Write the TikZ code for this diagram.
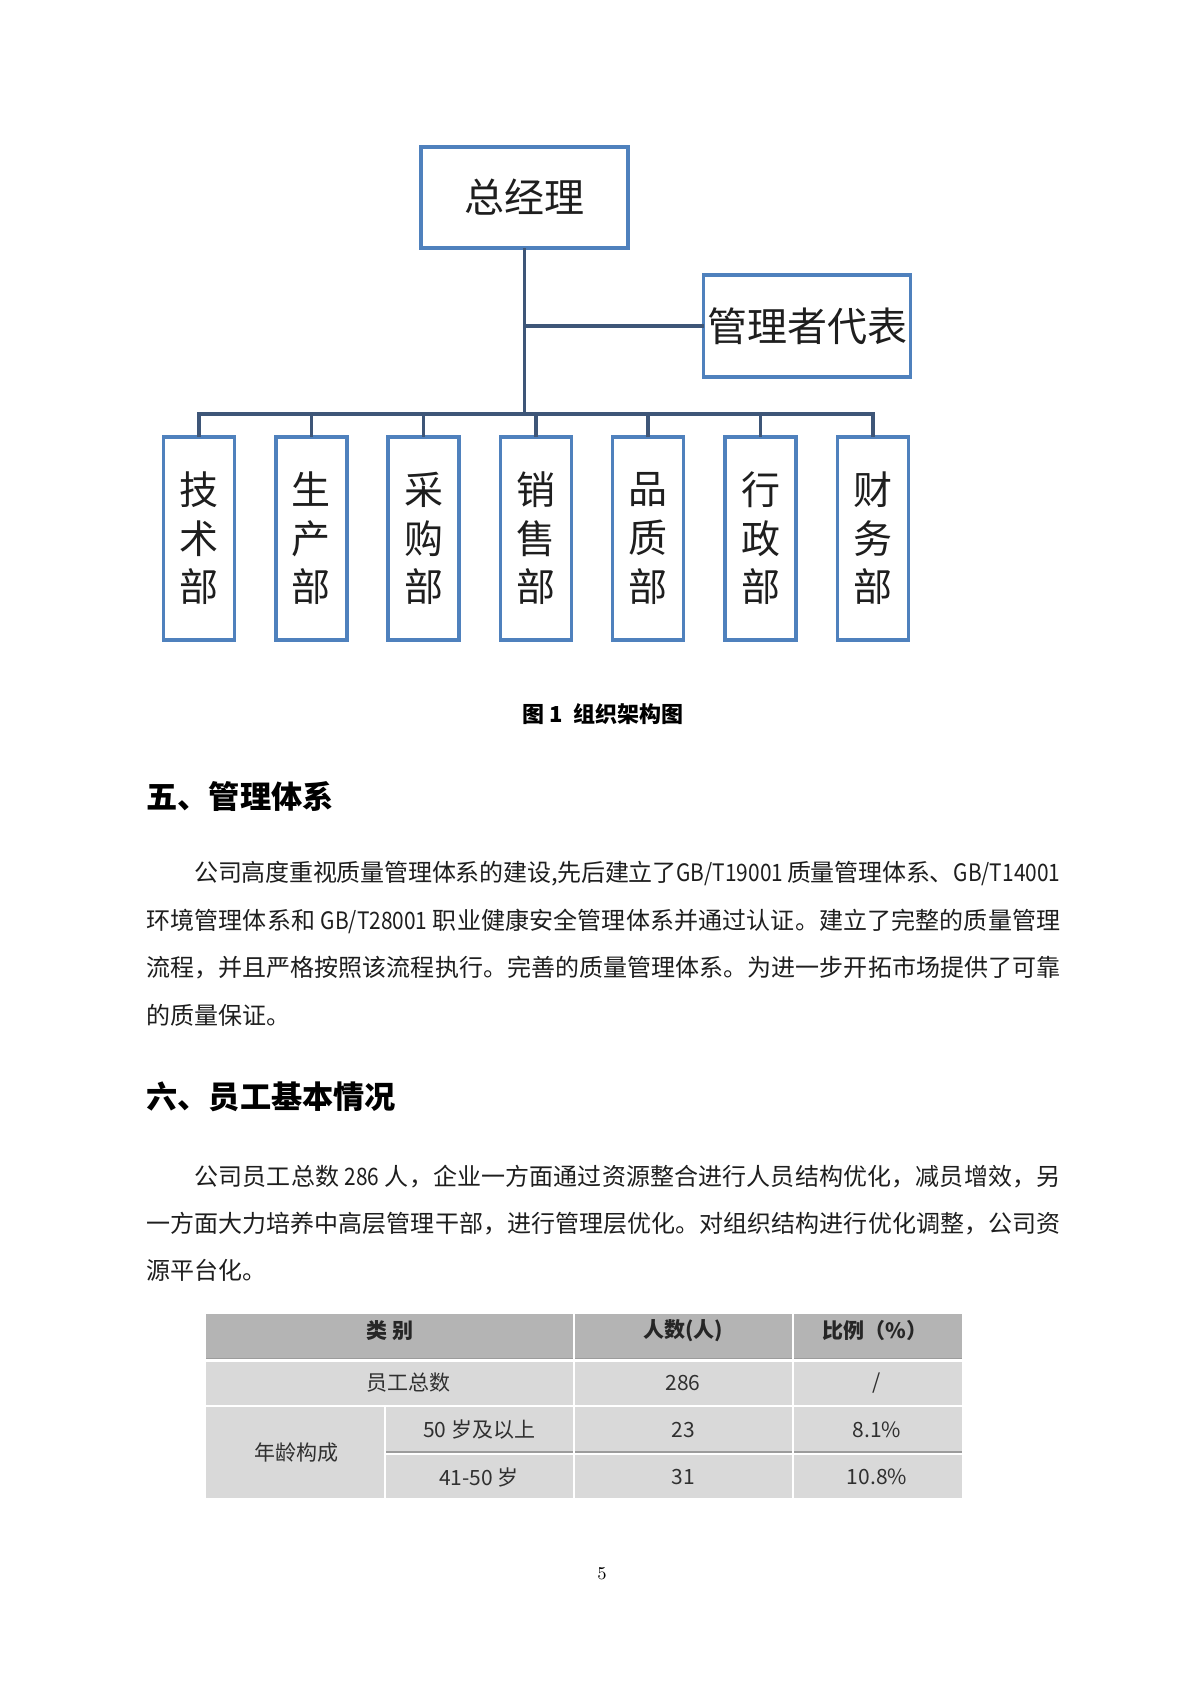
\documentclass[tikz,border=0pt]{standalone}
\usepackage{fontspec}
\usepackage{graphicx}
\newfontfamily\cjk{Noto Sans CJK SC}
\definecolor{boxblue}{HTML}{4F81BD}
\definecolor{connblue}{HTML}{3E5678}
\definecolor{hdrgray}{HTML}{B4B4B4}
\definecolor{rowgray}{HTML}{D9D9D9}
\definecolor{sepgray}{HTML}{9C9C9C}
\definecolor{bodyink}{HTML}{1E1E1E}
\definecolor{tabink}{HTML}{303030}
\tikzset{
  orgbox/.style={draw=boxblue, line width=1.75pt, fill=white, inner sep=0pt, text=bodyink, font=\cjk\fontsize{20}{24}\selectfont},
  deptbox/.style={orgbox, minimum width=35.5pt, minimum height=101.5pt, align=center, font=\cjk\fontsize{19.5}{24.3}\selectfont},
  conn/.style={draw=connblue, line width=1.8pt, line cap=rect},
  bodyline/.style={anchor=west, inner sep=0pt, text=bodyink, font=\cjk\fontsize{12}{14}\selectfont},
  heading/.style={anchor=west, inner sep=0pt, text=black, font=\cjk\bfseries\fontsize{15.6}{18}\selectfont},
  tabhead/.style={inner sep=0pt, text=black!85, font=\cjk\bfseries\fontsize{10.5}{12}\selectfont},
  tabcell/.style={inner sep=0pt, text=tabink, font=\cjk\fontsize{10.5}{12}\selectfont},
}
% justified line: glue between every token (group)
\def\stopmarker{\relax}
\newcommand\spreadline[1]{\hbox to 457pt{\spreadfirst#1\relax}}
\def\spreadfirst#1{{#1}\spreadrest}
\def\spreadrest#1{\def\sptmp{#1}\ifx\sptmp\stopmarker\else\hskip 0pt plus 1fil minus 1fil{#1}\expandafter\spreadrest\fi}
\newcommand\lat[1]{\scalebox{0.87}[1]{#1}}
\begin{document}
\begin{tikzpicture}[x=0.5pt, y=-0.5pt]
\useasboundingbox[fill=white] (0,0) rectangle (1191,1684);

% ---------- organisation chart ----------
\node[orgbox, minimum width=103.5pt, minimum height=50.5pt] (gm) at (524.5,197.5) {总经理};
\node[orgbox, minimum width=103.5pt, minimum height=51pt] (rep) at (807,326) {管理者代表};

\node[deptbox] (d1) at (199,538.5) {技\\术\\部};
\node[deptbox] (d2) at (311.3,538.5) {生\\产\\部};
\node[deptbox] (d3) at (423.6,538.5) {采\\购\\部};
\node[deptbox] (d4) at (535.9,538.5) {销\\售\\部};
\node[deptbox] (d5) at (648.2,538.5) {品\\质\\部};
\node[deptbox] (d6) at (760.5,538.5) {行\\政\\部};
\node[deptbox] (d7) at (872.8,538.5) {财\\务\\部};

\coordinate (busL) at (199,414);
\coordinate (busR) at (872.8,414);
\coordinate (busM) at (524.5,414);

\draw[conn] (gm.south) -- (busM);
\draw[conn] (gm.south |- rep.west) -- (rep.west);
\draw[conn] (busL) -- (busR);
\foreach \d in {d1,d2,d3,d4,d5,d6,d7}{
  \draw[conn] (\d.north |- busL) -- (\d.north);
}

% ---------- caption ----------
\node[inner sep=0pt, text=black, font=\cjk\bfseries\fontsize{11}{13}\selectfont] (cap) at (603,714) {图 1\ \ 组织架构图};

% ---------- section five ----------
\node[heading] (h5) at (146,797) {五、管理体系};

\node[bodyline] (p1a) at (146,874) {\spreadline{{\hspace*{24pt}}公司高度重视质量管理体系的建设,先后建立了{\lat{GB/T19001}\,}质量管理体系、{\lat{GB/T14001}}}};
\node[bodyline] (p1b) at (146,921) {\spreadline{环境管理体系和{\ \lat{GB/T28001}\ }职业健康安全管理体系并通过认证。建立了完整的质量管理}};
\node[bodyline] (p1c) at (146,968) {\spreadline{流程，并且严格按照该流程执行。完善的质量管理体系。为进一步开拓市场提供了可靠}};
\node[bodyline] (p1d) at (146,1015) {的质量保证。};

% ---------- section six ----------
\node[heading] (h6) at (146,1097) {六、员工基本情况};

\node[bodyline] (p2a) at (146,1177) {\spreadline{{\hspace*{24pt}}公司员工总数{\ \lat{286}\ }人，企业一方面通过资源整合进行人员结构优化，减员增效，另}};
\node[bodyline] (p2b) at (146,1224) {\spreadline{一方面大力培养中高层管理干部，进行管理层优化。对组织结构进行优化调整，公司资}};
\node[bodyline] (p2c) at (146,1270) {源平台化。};

% ---------- table ----------
\fill[hdrgray] (206,1314) rectangle (962,1359);
\fill[rowgray] (206,1359) rectangle (962,1498);
\draw[sepgray, line width=0.6pt] (206,1358.5) -- (962,1358.5);
\draw[white, line width=1.2pt] (206,1360.5) -- (962,1360.5);
\draw[white, line width=1.2pt] (206,1406) -- (962,1406);
\draw[sepgray, line width=0.6pt] (385,1452) -- (962,1452);
\draw[white, line width=1pt] (385,1454) -- (962,1454);
\draw[white, line width=1.2pt] (574,1314) -- (574,1498);
\draw[white, line width=1.2pt] (793,1314) -- (793,1498);
\draw[white, line width=1.2pt] (385,1406) -- (385,1498);

\node[tabhead] (th1) at (390,1331) {类\ 别};
\node[tabhead] (th2) at (683,1331) {人数(人)};
\node[tabhead] (th3) at (875,1331) {比例（\%）};

\node[tabcell] (r1a) at (408,1383) {员工总数};
\node[tabcell] (r1b) at (683,1383) {286};
\node[tabcell] (r1c) at (877,1383) {/};

\node[tabcell] (age) at (296,1453) {年龄构成};
\node[tabcell] (r2a) at (479,1430) {50 岁及以上};
\node[tabcell] (r2b) at (683,1430) {23};
\node[tabcell] (r2c) at (877,1430) {8.1\%};
\node[tabcell] (r3a) at (479,1477) {41-50 岁};
\node[tabcell] (r3b) at (683,1477) {31};
\node[tabcell] (r3c) at (877,1477) {10.8\%};

% ---------- page number ----------
\node[inner sep=0pt, text=black, font=\fontsize{9}{10}\selectfont] (pg) at (602,1574) {5};
\end{tikzpicture}
\end{document}
